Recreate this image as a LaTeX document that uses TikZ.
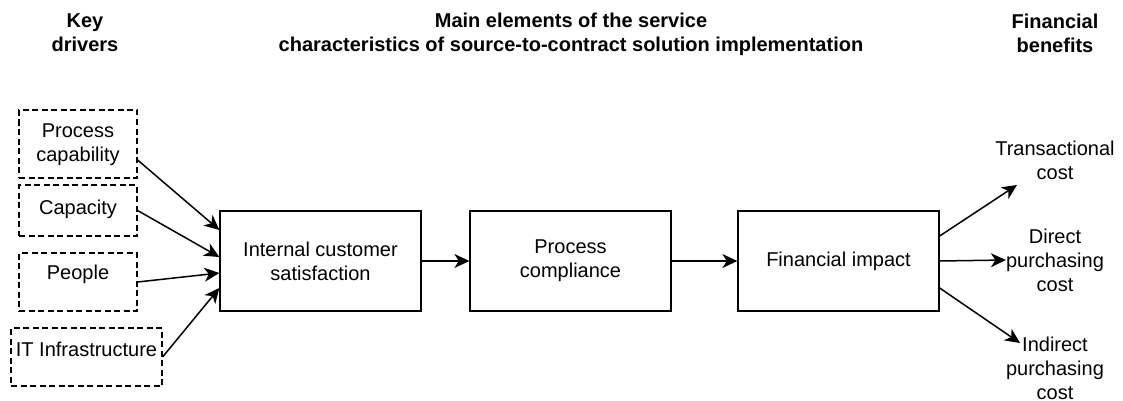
\documentclass[tikz,border=0pt]{standalone}
\usepackage{fontspec}
\setmainfont{Liberation Sans}
\usetikzlibrary{arrows.meta}
\begin{document}
\begin{tikzpicture}[x=1pt, y=-1pt,
  every node/.style={font=\fontsize{20}{24}\selectfont, align=center, inner sep=0pt},
  drvbox/.style={draw, line width=1.2pt, dash pattern=on 6pt off 3.5pt, minimum width=118pt},
  stagebox/.style={draw, line width=1.3pt, minimum width=201pt, minimum height=100pt},
  head/.style={font=\fontsize{20}{24}\selectfont\bfseries},
  link/.style={line width=1.5pt, -{Stealth[length=15pt, width=14pt, inset=4.5pt]}}]
\useasboundingbox (0,0) rectangle (1123,401);
\node[head] (hdrv) at (85,33) {Key\\drivers};
\node[head] (hmain) at (571,34) {Main elements of the service\\characteristics of source-to-contract solution implementation};
\node[head] (hben) at (1055,33) {Financial\\benefits};
\node[drvbox, minimum height=68pt] (pcap) at (78,144){};
\node (pcapt) at (78,145) {Process\\capability};
\node[drvbox, minimum height=51pt] (cap) at (78,210.5){};
\node (capt) at (78,209) {Capacity};
\node[drvbox, minimum height=58pt] (ppl) at (78,282){};
\node (pplt) at (78,274) {People};
\node[drvbox, minimum width=151pt, minimum height=58pt] (itin) at (86.5,357){};
\node (itint) at (86.5,349) {IT Infrastructure};
\node[stagebox] (ics) at (320.5,261) {Internal customer\\satisfaction};
\node[stagebox] (pcom) at (570.5,261) {Process\\compliance};
\node[stagebox] (fimp) at (838.5,261) {Financial impact};
\node (tc) at (1055,160) {Transactional\\cost};
\node (dpc) at (1055,260) {Direct\\purchasing\\cost};
\node (ipc) at (1055,368) {Indirect\\purchasing\\cost};
\coordinate (tcend) at (1017,185);
\coordinate (ipcend) at (1020,343);
\draw[link] ([yshift=-16pt]pcap.east) -- ([yshift=31pt]ics.west);
\draw[link] (cap.east) -- ([yshift=4pt]ics.west);
\draw[link] (ppl.east) -- ([yshift=-12pt]ics.west);
\draw[link] (itin.east) -- ([yshift=-27pt]ics.west);
\draw[link] (ics) -- (pcom);
\draw[link] (pcom) -- (fimp);
\draw[link] ([yshift=25pt]fimp.east) -- (tcend);
\draw[link] (fimp.east) -- (dpc.west);
\draw[link] ([yshift=-27pt]fimp.east) -- (ipcend);
\end{tikzpicture}
\end{document}
